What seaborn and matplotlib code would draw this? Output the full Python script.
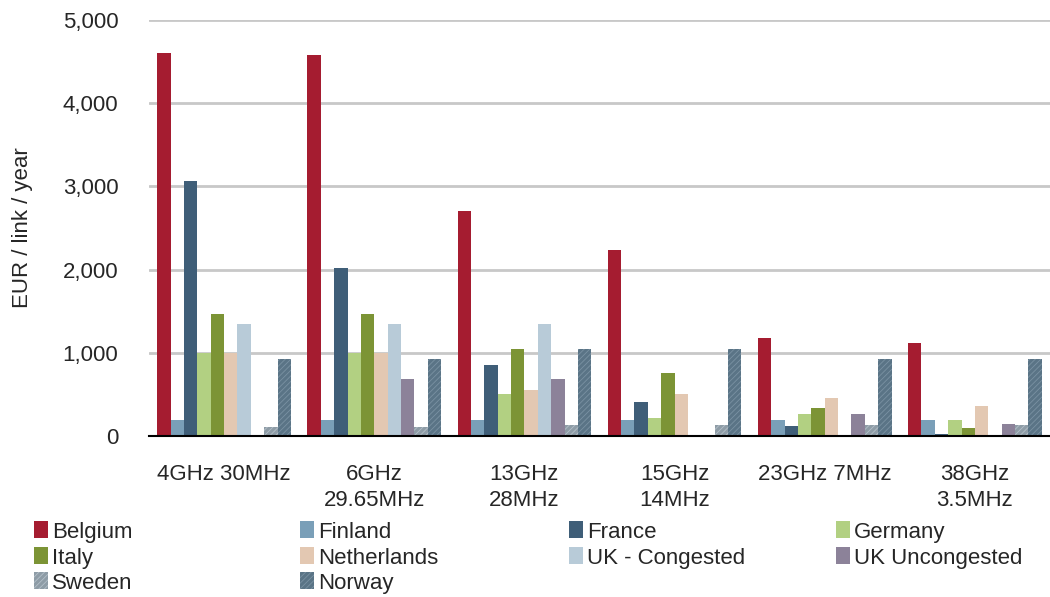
import matplotlib
matplotlib.use("Agg")
import matplotlib.pyplot as plt
import seaborn as sns
import pandas as pd
from matplotlib.patches import Patch

categories = ["4GHz 30MHz", "6GHz\n29.65MHz", "13GHz\n28MHz", "15GHz\n14MHz", "23GHz 7MHz", "38GHz\n3.5MHz"]
countries = ["Belgium", "Finland", "France", "Germany", "Italy", "Netherlands",
             "UK - Congested", "UK Uncongested", "Sweden", "Norway"]
belgium = [4600, 4580, 2700, 2230, 1180, 1120]
finland = [195, 195, 195, 195, 195, 195]
france = [3060, 2020, 855, 410, 120, 20]
germany = [1000, 1000, 505, 220, 265, 190]
italy = [1470, 1470, 1045, 760, 335, 95]
netherlands = [1000, 1000, 555, 505, 455, 360]
uk_congested = [1350, 1350, 1350, 0, 0, 0]
uk_uncongested = [0, 690, 690, 0, 265, 145]
sweden = [110, 110, 130, 130, 130, 130]
norway = [925, 925, 1045, 1045, 925, 925]
series = [belgium, finland, france, germany, italy, netherlands,
          uk_congested, uk_uncongested, sweden, norway]
colors = ["#A51C30", "#7A9FB8", "#3F5E78", "#B2D082", "#7C9435", "#E3C8B2",
          "#B8CBD8", "#8C8299", "#8E9CA6", "#5A7486"]
hatch_edges = {"Sweden": "#B4C0C9", "Norway": "#7A92A3"}

rows = []
for c, vals in zip(countries, series):
    for cat, v in zip(categories, vals):
        rows.append({"cat": cat, "country": c, "value": v})
df = pd.DataFrame(rows)

sns.set_theme(style="white")
plt.rcParams["font.family"] = ["Liberation Sans", "DejaVu Sans"]
plt.rcParams["hatch.linewidth"] = 0.6

FS = 16
fig = plt.figure(figsize=(10.5, 5.97), dpi=100)
ax = fig.add_axes([149 / 1050, 1 - 436 / 597, 901 / 1050, 416 / 597])
sns.barplot(data=df, x="cat", y="value", hue="country", order=categories,
            hue_order=countries, palette=colors, width=0.89, ax=ax,
            saturation=1, legend=False, errorbar=None, linewidth=0)

n = len(categories)
for i, cont in enumerate(ax.containers):
    if countries[i] in hatch_edges:
        for bar in cont:
            bar.set_hatch("//////")
            bar.set_edgecolor(hatch_edges[countries[i]])
            bar.set_linewidth(0)

ax.set_ylim(0, 5000)
ax.set_yticks([0, 1000, 2000, 3000, 4000, 5000])
ax.set_yticklabels(["0", "1,000", "2,000", "3,000", "4,000", "5,000"], fontsize=FS)
ax.set_xticks(range(n))
ax.set_xticklabels(categories, fontsize=FS, linespacing=1.35)
ax.tick_params(axis="x", length=0, pad=20)
ax.tick_params(axis="y", length=0, pad=22)
ax.set_xlabel("")
ax.set_ylabel("EUR / link / year", fontsize=FS)
ax.yaxis.set_label_coords(-116 / 901, 0.5)
ax.yaxis.grid(True, color="#C8C8C8", linewidth=2)
ax.set_axisbelow(True)
for s in ["left", "right", "top"]:
    ax.spines[s].set_visible(False)
ax.spines["bottom"].set_color("black")
ax.spines["bottom"].set_linewidth(1.5)
ax.set_xlim(-0.5, n - 0.5)

col_x = [34, 300, 569, 836]
row_y = [532, 558, 583]
for k, (c, col) in enumerate(zip(countries, colors)):
    r, cidx = divmod(k, 4)
    if c in hatch_edges:
        h = Patch(facecolor=col, edgecolor=hatch_edges[c], hatch="//////", linewidth=0, label=c)
    else:
        h = Patch(facecolor=col, linewidth=0, label=c)
    fig.legend(handles=[h], loc="center left",
               bbox_to_anchor=(col_x[cidx] / 1050, 1 - row_y[r] / 597),
               frameon=False, fontsize=FS, handlelength=0.65, handleheight=0.8,
               handletextpad=0.15, borderaxespad=0, borderpad=0)

fig.savefig("out.png", dpi=100)
